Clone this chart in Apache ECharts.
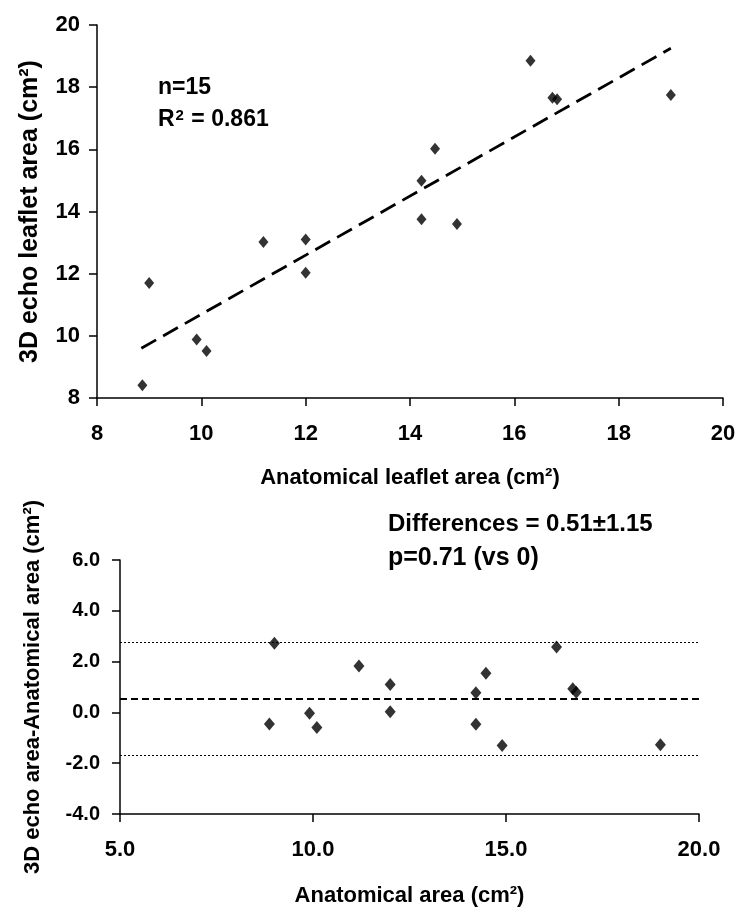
<!DOCTYPE html>
<html>
<head>
<meta charset="utf-8">
<script src="https://cdn.jsdelivr.net/npm/echarts@6/dist/echarts.min.js"></script>
<style>
html,body{margin:0;padding:0;background:#fff;}
#chart{width:750px;height:918px;}
</style>
</head>
<body>
<div id="chart"></div>
<script>
// ---- data ----
var anatomicalArea = [8.87, 9.0, 9.91, 10.1, 11.19, 12.0, 12.0, 14.22, 14.22, 14.48, 14.9, 16.31, 16.73, 16.82, 19.0];
var echoArea       = [8.41, 11.7, 9.88, 9.51, 13.02, 13.1, 12.03, 14.99, 13.75, 16.02, 13.6, 18.85, 17.66, 17.61, 17.75];
var differences    = [-0.46, 2.72, -0.03, -0.59, 1.83, 1.10, 0.03, 0.77, -0.47, 1.54, -1.30, 2.57, 0.93, 0.79, -1.27];
var trendX = [8.85, 19.0];
var trendY = [9.6, 19.25];
var meanDiff = 0.55;
var upperLimit = 2.76;
var lowerLimit = -1.69;
var topXTicks = [8, 10, 12, 14, 16, 18, 20];
var topYTicks = [8, 10, 12, 14, 16, 18, 20];
var botXTicks = [5.0, 10.0, 15.0, 20.0];
var botYTicks = [-4.0, -2.0, 0.0, 2.0, 4.0, 6.0];

var FONT = '"Liberation Sans", Arial, sans-serif';
var INK = '#000';

function pairs(xs, ys) { return xs.map(function (x, i) { return [x, ys[i]]; }); }

function ax(extra, nameSize) {
  var o = {
    axisLine: { onZero: false, lineStyle: { color: INK, width: 1.5 } },
    axisTick: { show: true, length: 8, lineStyle: { color: INK, width: 1.5 } },
    splitLine: { show: false },
    nameLocation: 'middle',
    nameTextStyle: { color: INK, fontFamily: FONT, fontWeight: 'bold', fontSize: nameSize }
  };
  for (var k in extra) o[k] = extra[k];
  return o;
}
function lbl(margin, size, dec) {
  return { color: INK, fontFamily: FONT, fontWeight: 'bold', fontSize: size, margin: margin,
    formatter: function (v) { return dec ? Number(v).toFixed(1) : String(v); } };
}

var chart = echarts.init(document.getElementById('chart'), null, { renderer: 'canvas' });
chart.setOption({
  backgroundColor: '#fff',
  animation: false,
  grid: [
    { left: 97, right: 27, top: 25, bottom: 520, containLabel: false },
    { left: 120, right: 51, top: 560, bottom: 104, containLabel: false }
  ],
  xAxis: [
    ax({ type: 'value', gridIndex: 0, min: topXTicks[0], max: topXTicks[topXTicks.length - 1],
      interval: topXTicks[1] - topXTicks[0], name: 'Anatomical leaflet area (cm²)', nameGap: 69,
      axisLabel: lbl(25, 22, false) }, 22),
    ax({ type: 'value', gridIndex: 1, min: botXTicks[0], max: botXTicks[botXTicks.length - 1],
      interval: botXTicks[1] - botXTicks[0], name: 'Anatomical area (cm²)', nameGap: 71,
      axisLabel: lbl(25, 22, true) }, 22)
  ],
  yAxis: [
    ax({ type: 'value', gridIndex: 0, min: topYTicks[0], max: topYTicks[topYTicks.length - 1],
      interval: topYTicks[1] - topYTicks[0], name: '3D echo leaflet area (cm²)', nameGap: 54,
      axisLabel: lbl(17, 22, false) }, 25),
    ax({ type: 'value', gridIndex: 1, min: botYTicks[0], max: botYTicks[botYTicks.length - 1],
      interval: botYTicks[1] - botYTicks[0], name: '3D echo area-Anatomical area (cm²)', nameGap: 76,
      axisLabel: lbl(20, 20, true) }, 22)
  ],
  series: [
    {
      type: 'line', xAxisIndex: 0, yAxisIndex: 0, data: pairs(trendX, trendY),
      symbol: 'none', lineStyle: { color: INK, width: 2.8, type: [17, 8] }, z: 2
    },
    {
      type: 'scatter', xAxisIndex: 0, yAxisIndex: 0, data: pairs(anatomicalArea, echoArea),
      symbol: 'diamond', symbolSize: [10, 12], itemStyle: { color: '#000' }, z: 3
    },
    {
      type: 'scatter', xAxisIndex: 1, yAxisIndex: 1, data: pairs(anatomicalArea, differences),
      symbol: 'diamond', symbolSize: [11, 13], itemStyle: { color: '#000' }, z: 3,
      markLine: {
        silent: true, symbol: 'none', label: { show: false },
        data: [
          { yAxis: meanDiff, lineStyle: { color: INK, width: 2, type: [7, 4] } },
          { yAxis: upperLimit, lineStyle: { color: INK, width: 1.2, type: [2, 2] } },
          { yAxis: lowerLimit, lineStyle: { color: INK, width: 1.2, type: [2, 2] } }
        ]
      }
    }
  ],
  graphic: [
    { type: 'text', left: 158, top: 76, style: { text: 'n=15', fill: INK, font: 'bold 23px ' + FONT } },
    { type: 'text', left: 158, top: 108, style: {
      text: 'R{s|2} = 0.861', fill: INK, font: 'bold 23px ' + FONT,
      rich: { s: { font: 'bold 15px ' + FONT, fill: INK, verticalAlign: 'bottom', padding: [0, 1, 8, 1] } } } },
    { type: 'text', left: 388, top: 512, style: { text: 'Differences = 0.51±1.15', fill: INK, font: 'bold 24px ' + FONT } },
    { type: 'text', left: 388, top: 546, style: { text: 'p=0.71 (vs 0)', fill: INK, font: 'bold 25px ' + FONT } }
  ]
});
</script>
</body>
</html>
